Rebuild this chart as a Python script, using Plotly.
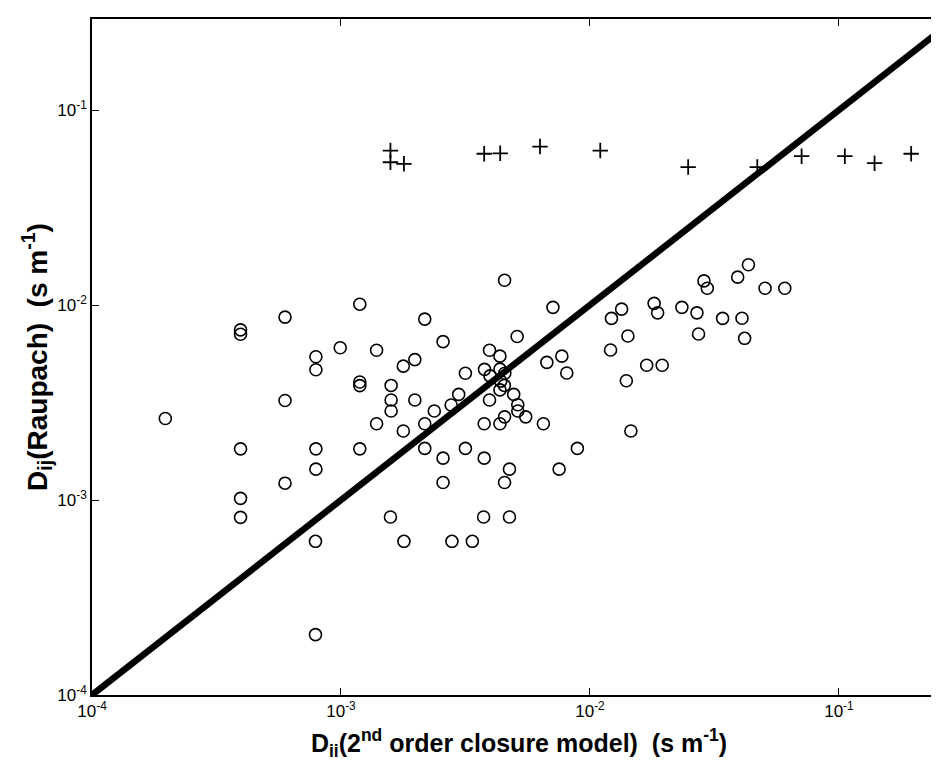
import plotly.graph_objects as go

# Circles: D_ii (2nd order closure model) vs D_ij (Raupach)
circle_x = [1.19e-3, 5.96e-4, 3.95e-4, 3.95e-4, 9.93e-4, 1.39e-3, 7.93e-4, 7.93e-4, 1.19e-3, 1.19e-3,
            5.96e-4, 1.97e-4, 1.39e-3, 3.95e-4, 7.93e-4, 1.19e-3, 7.93e-4, 5.96e-4, 3.95e-4, 3.95e-4,
            7.9e-4, 1.58e-3, 1.79e-3, 2.79e-3, 3.37e-3, 3.74e-3, 4.75e-3, 7.9e-4,
            4.54e-3, 7.1e-3, 2.17e-3, 2.57e-3, 5.1e-3, 3.95e-3, 4.35e-3, 1.98e-3, 1.78e-3, 6.71e-3,
            7.71e-3, 3.77e-3, 4.35e-3, 4.55e-3, 3.16e-3, 3.97e-3, 8.07e-3, 1.59e-3, 4.38e-3, 4.53e-3,
            4.35e-3, 2.97e-3, 4.94e-3, 1.59e-3, 1.98e-3, 3.95e-3, 2.77e-3, 5.13e-3, 1.59e-3, 2.37e-3,
            5.13e-3, 5.52e-3, 4.54e-3, 2.17e-3, 3.76e-3, 4.35e-3, 6.5e-3, 1.78e-3, 2.17e-3, 3.16e-3,
            8.9e-3, 2.57e-3, 3.76e-3, 4.75e-3, 7.52e-3, 2.57e-3, 4.54e-3,
            4.33e-2, 3.92e-2, 2.87e-2, 2.96e-2, 5.05e-2, 6.06e-2, 1.34e-2, 1.22e-2, 1.81e-2, 1.87e-2,
            2.34e-2, 2.69e-2, 3.41e-2, 4.08e-2, 1.42e-2, 2.73e-2, 4.18e-2, 1.21e-2, 1.69e-2, 1.95e-2,
            1.40e-2, 1.46e-2]
circle_y = [1.01e-2, 8.67e-3, 7.46e-3, 7.08e-3, 6.04e-3, 5.86e-3, 5.43e-3, 4.66e-3, 4.03e-3, 3.86e-3,
            3.24e-3, 2.62e-3, 2.46e-3, 1.83e-3, 1.83e-3, 1.83e-3, 1.44e-3, 1.22e-3, 1.02e-3, 8.15e-4,
            6.14e-4, 8.18e-4, 6.14e-4, 6.14e-4, 6.14e-4, 8.18e-4, 8.18e-4, 2.04e-4,
            1.34e-2, 9.73e-3, 8.47e-3, 6.49e-3, 6.9e-3, 5.86e-3, 5.47e-3, 5.25e-3, 4.86e-3, 5.08e-3,
            5.47e-3, 4.68e-3, 4.69e-3, 4.47e-3, 4.47e-3, 4.33e-3, 4.48e-3, 3.87e-3, 4.07e-3, 3.87e-3,
            3.67e-3, 3.48e-3, 3.48e-3, 3.26e-3, 3.26e-3, 3.26e-3, 3.07e-3, 3.08e-3, 2.86e-3, 2.86e-3,
            2.86e-3, 2.67e-3, 2.67e-3, 2.46e-3, 2.46e-3, 2.46e-3, 2.46e-3, 2.26e-3, 1.84e-3, 1.84e-3,
            1.84e-3, 1.64e-3, 1.64e-3, 1.44e-3, 1.44e-3, 1.23e-3, 1.23e-3,
            1.61e-2, 1.39e-2, 1.33e-2, 1.22e-2, 1.22e-2, 1.22e-2, 9.53e-3, 8.54e-3, 1.02e-2, 9.12e-3,
            9.73e-3, 9.12e-3, 8.54e-3, 8.56e-3, 6.94e-3, 7.1e-3, 6.75e-3, 5.88e-3, 4.91e-3, 4.91e-3,
            4.09e-3, 2.26e-3]

# Crosses
cross_x = [1.58e-3, 1.58e-3, 1.79e-3, 3.76e-3, 4.36e-3, 6.3e-3, 1.1e-2, 2.48e-2, 4.7e-2,
           7.08e-2, 0.1056, 0.139, 0.195]
cross_y = [0.062, 0.054, 0.053, 0.0597, 0.060, 0.065, 0.062, 0.051, 0.051,
           0.058, 0.058, 0.0534, 0.0597]

# 1:1 line
line_vals = [1e-4, 1.0]

tick_vals = [1e-4, 1e-3, 1e-2, 1e-1]
tick_text = ["10<sup>-4</sup>", "10<sup>-3</sup>", "10<sup>-2</sup>", "10<sup>-1</sup>"]

fig = go.Figure()
fig.add_trace(go.Scatter(x=line_vals, y=line_vals, mode="lines",
                         line=dict(color="black", width=6.5), showlegend=False))
fig.add_trace(go.Scatter(x=circle_x, y=circle_y, mode="markers",
                         marker=dict(symbol="circle-open", size=12, color="black",
                                     line=dict(width=1.6, color="black")),
                         showlegend=False))
fig.add_trace(go.Scatter(x=cross_x, y=cross_y, mode="markers",
                         marker=dict(symbol="cross-thin-open", size=11, color="black",
                                     line=dict(width=1.8, color="black")),
                         showlegend=False))

axis_common = dict(type="log", showgrid=False, zeroline=False, showline=True,
                   linecolor="black", linewidth=1.5, mirror="ticks", ticks="inside",
                   ticklen=7, tickwidth=1.2, tickcolor="black", automargin=False,
                   tickvals=tick_vals, ticktext=tick_text,
                   tickfont=dict(family="Liberation Sans, Arial", size=17, color="black"))

fig.update_layout(
    width=939, height=766,
    margin=dict(l=84, r=1, t=11, b=79),
    paper_bgcolor="white", plot_bgcolor="white",
    xaxis=dict(range=[-4, -0.57],
               title=dict(text="<b>D<sub>ii</sub>(2<sup>nd</sup> order closure model)  (s m<sup>-1</sup>)</b>",
                          font=dict(family="Liberation Sans, Arial", size=25, color="black"),
                          standoff=14),
               **axis_common),
    yaxis=dict(range=[-4, -0.533],
               title=dict(text="<b>D<sub>ij</sub>(Raupach)  (s m<sup>-1</sup>)</b>",
                          font=dict(family="Liberation Sans, Arial", size=28, color="black"),
                          standoff=2),
               **axis_common),
)

fig.write_html("out.html")
